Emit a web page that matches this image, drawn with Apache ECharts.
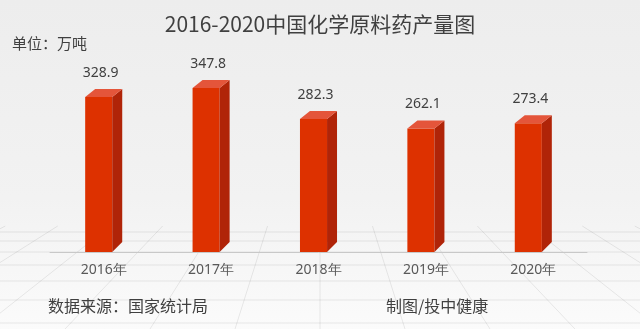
<!DOCTYPE html>
<html>
<head>
<meta charset="utf-8">
<script src="https://cdn.jsdelivr.net/npm/echarts@6/dist/echarts.min.js"></script>
<style>
html,body{margin:0;padding:0;}
#main{width:640px;height:329px;}
</style>
</head>
<body>
<div id="main"></div>
<script>
var categories = ['2016年', '2017年', '2018年', '2019年', '2020年'];
var values = [328.9, 347.8, 282.3, 262.1, 273.4];
var titleText = '2016-2020中国化学原料药产量图';
var unitText = '单位：万吨';
var sourceText = '数据来源：国家统计局';
var creditText = '制图/投中健康';

var chart = echarts.init(document.getElementById('main'), null, {renderer: 'canvas'});

// decorative perspective floor
var floor = [];
var horizon = 226, H = 329, vpX = 320, vpY = 60;
var hy = [232, 241, 252, 265, 281, 300, 323];
hy.forEach(function (y) {
  floor.push({type: 'line', silent: true, z: -10,
    shape: {x1: 0, y1: y, x2: 640, y2: y},
    style: {stroke: 'rgba(0,0,0,0.08)', lineWidth: 1}});
});
for (var i = -8; i <= 8; i++) {
  var bx = vpX + i * 85;
  var t = (horizon - vpY) / (H - vpY);
  var tx = vpX + (bx - vpX) * t;
  floor.push({type: 'line', silent: true, z: -10,
    shape: {x1: bx, y1: H, x2: tx, y2: horizon},
    style: {stroke: 'rgba(0,0,0,0.08)', lineWidth: 1}});
}

var option = {
  backgroundColor: {
    type: 'linear', x: 0, y: 0, x2: 0, y2: 1,
    colorStops: [{offset: 0, color: '#ededed'}, {offset: 0.6, color: '#f2f2f2'}, {offset: 1, color: '#fbfbfb'}]
  },
  title: {
    text: titleText, left: 'center', top: 9,
    textStyle: {fontFamily: 'Noto Sans CJK SC', fontSize: 21, fontWeight: 'normal', color: '#404040'}
  },
  graphic: floor.concat([
    {type: 'text', left: 12, top: 36, style: {text: unitText, font: '15px "Noto Sans CJK SC"', fill: '#404040'}},
    {type: 'text', left: 48, top: 298, style: {text: sourceText, font: '16px "Noto Sans CJK SC"', fill: '#404040'}},
    {type: 'text', left: 386, top: 298, style: {text: creditText, font: '16px "Noto Sans CJK SC"', fill: '#404040'}}
  ]),
  grid: {left: 50, right: 53, top: 63.5, bottom: 77},
  xAxis: {
    type: 'category', data: categories,
    axisLine: {lineStyle: {color: '#c8c8c8', width: 1}},
    axisTick: {inside: true, length: 5, lineStyle: {color: '#c8c8c8'}},
    axisLabel: {color: '#595959', fontSize: 14, margin: 11, fontFamily: 'Noto Sans'}
  },
  yAxis: {
    type: 'value', min: 0, max: 400, show: false, splitLine: {show: false}
  },
  series: [{
    type: 'custom',
    data: values.map(function (v, i) { return [i, v]; }),
    renderItem: function (params, api) {
      var x = api.value(0), v = api.value(1);
      var top = api.coord([x, v]);
      var base = api.coord([x, 0]);
      var band = api.size([1, 0])[0];
      var w = band * 0.252, dx = band * 0.093, dy = 8;
      var l = top[0] - (w + dx) / 2, r = l + w;
      var ty = top[1], by = base[1];
      return {
        type: 'group',
        children: [
          {type: 'rect', shape: {x: l, y: ty, width: w, height: by - ty},
            style: {fill: '#dd3100'}},
          {type: 'polygon', shape: {points: [[r, ty], [r + dx, ty - dy], [r + dx, by - dy - 2], [r, by]]},
            style: {fill: '#b02408'}},
          {type: 'polygon', shape: {points: [[l, ty], [l + dx, ty - dy], [r + dx, ty - dy], [r, ty]]},
            style: {fill: '#e4553a'}},
          {type: 'text', style: {text: String(v), x: (l + r) / 2 + 2, y: ty - dy - 16,
            textAlign: 'center', textVerticalAlign: 'middle',
            font: '14px "Noto Sans"', fill: '#404040'}}
        ]
      };
    }
  }]
};
chart.setOption(option);
</script>
</body>
</html>
